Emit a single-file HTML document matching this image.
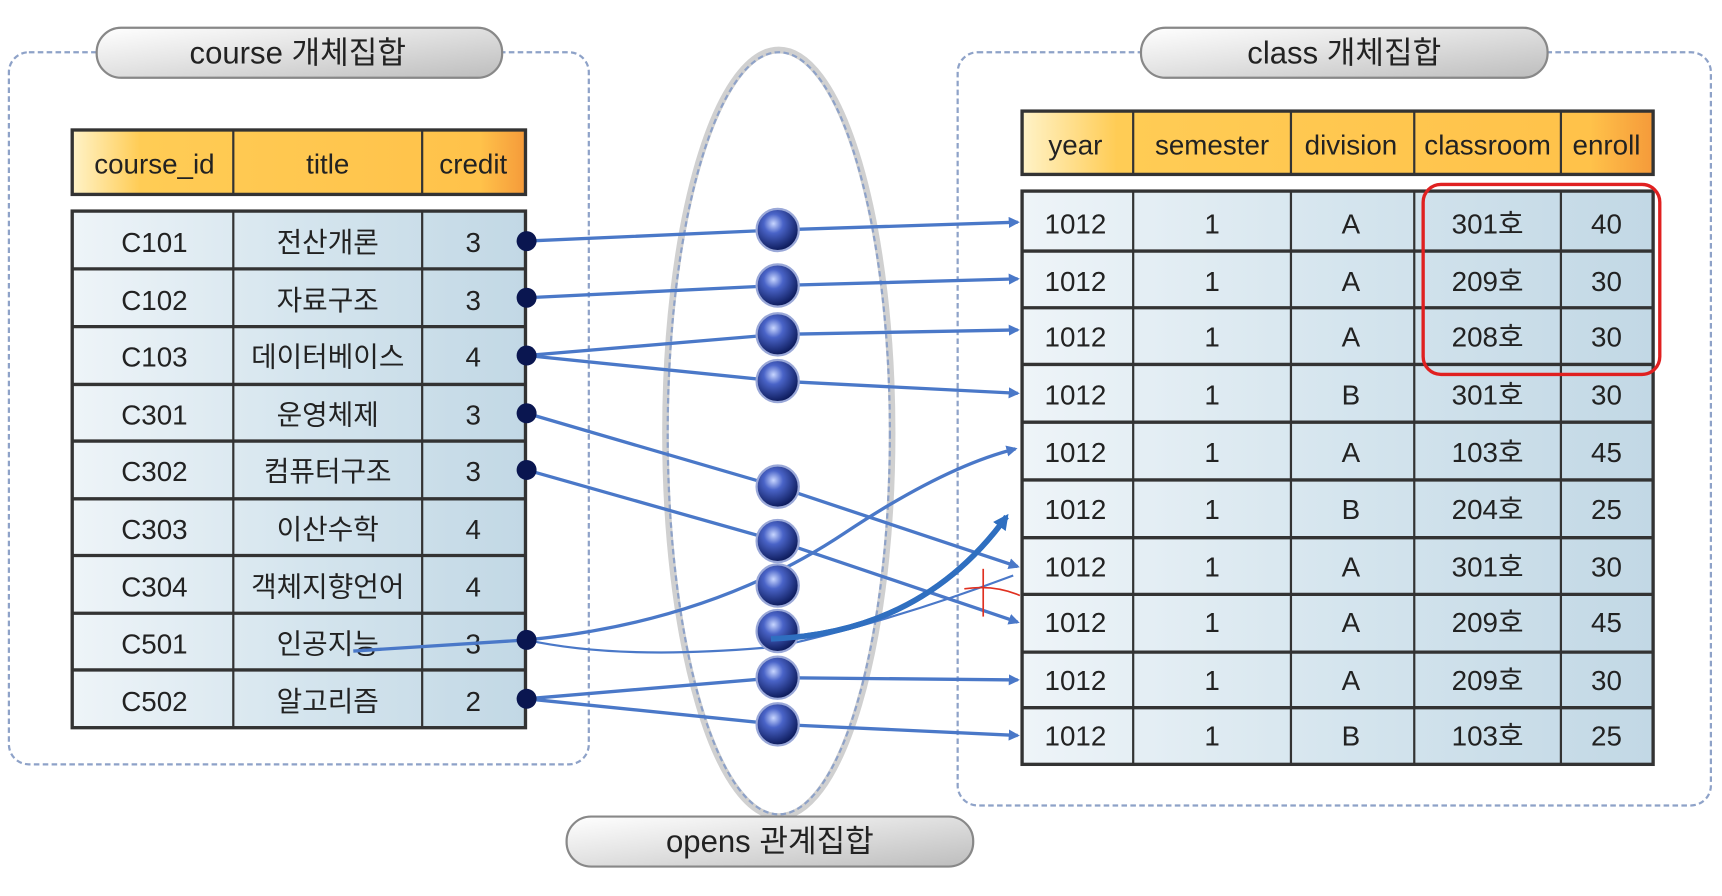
<!DOCTYPE html>
<html><head><meta charset="utf-8"><style>
html,body{margin:0;padding:0;background:#fff;}
svg{display:block;}
text{font-family:"Liberation Sans","Noto Sans CJK KR",sans-serif;}
</style></head><body>
<svg width="1722" height="896" viewBox="0 0 1550 806.5" preserveAspectRatio="none" xmlns="http://www.w3.org/2000/svg">
<defs>
<linearGradient id="cell" x1="0" y1="0" x2="1" y2="0"><stop offset="0" stop-color="#eef4f8"/><stop offset="0.5" stop-color="#d5e5ee"/><stop offset="1" stop-color="#c2d8e5"/></linearGradient>
<linearGradient id="hdr" x1="0" y1="0" x2="1" y2="0"><stop offset="0" stop-color="#fff3c8"/><stop offset="0.15" stop-color="#ffcc55"/><stop offset="0.9" stop-color="#ffc24a"/><stop offset="1" stop-color="#f59a3a"/></linearGradient>
<linearGradient id="pill" x1="0" y1="0" x2="1" y2="1"><stop offset="0" stop-color="#ffffff"/><stop offset="0.4" stop-color="#e6e6e6"/><stop offset="1" stop-color="#bdbdbd"/></linearGradient>
<radialGradient id="ball" cx="0.4" cy="0.35" r="0.65"><stop offset="0" stop-color="#c8d6ff"/><stop offset="0.35" stop-color="#4a64c8"/><stop offset="1" stop-color="#0c1a5a"/></radialGradient>
<marker id="ar" markerWidth="10" markerHeight="10" refX="8" refY="5" orient="auto" markerUnits="userSpaceOnUse"><path d="M0,0 L10,5 L0,10 Z" fill="#4a78c8"/></marker>
<marker id="ar2" markerWidth="14" markerHeight="14" refX="11" refY="7" orient="auto" markerUnits="userSpaceOnUse"><path d="M0,0 L14,7 L0,14 Z" fill="#2f6fc0"/></marker>
</defs>

<rect x="8" y="47" width="522" height="641" rx="18" fill="none" stroke="#8ea2c8" stroke-width="2" stroke-dasharray="5,3"/>
<rect x="862" y="47" width="678" height="678" rx="18" fill="none" stroke="#8ea2c8" stroke-width="2" stroke-dasharray="5,3"/>
<ellipse cx="701" cy="390" rx="102" ry="345" fill="#fff" stroke="#d0d0d0" stroke-width="6"/>
<ellipse cx="701" cy="390" rx="100" ry="343" fill="none" stroke="#8ea2c8" stroke-width="2" stroke-dasharray="5,3"/>

<rect x="87" y="25" width="365" height="45" rx="22" fill="url(#pill)" stroke="#888" stroke-width="2"/>
<text x="268" y="57" font-size="28" text-anchor="middle" fill="#222">course 개체집합</text>
<rect x="1027" y="25" width="366" height="45" rx="22" fill="url(#pill)" stroke="#888" stroke-width="2"/>
<text x="1210" y="57" font-size="28" text-anchor="middle" fill="#222">class 개체집합</text>
<rect x="510" y="735" width="366" height="45" rx="22" fill="url(#pill)" stroke="#888" stroke-width="2"/>
<text x="693" y="767" font-size="28" text-anchor="middle" fill="#222">opens 관계집합</text>

<g font-size="25" fill="#222" text-anchor="middle">
<rect x="65" y="117" width="408" height="58" fill="url(#hdr)" stroke="#333" stroke-width="3"/>
<line x1="210" y1="117" x2="210" y2="175" stroke="#333" stroke-width="2"/>
<line x1="380" y1="117" x2="380" y2="175" stroke="#333" stroke-width="2"/>
<text x="139" y="156">course_id</text><text x="295" y="156">title</text><text x="426" y="156">credit</text>

<rect x="65" y="190" width="408" height="465" fill="url(#cell)" stroke="#333" stroke-width="3"/>
<g stroke="#333" stroke-width="3">
<line x1="65" y1="242" x2="473" y2="242"/><line x1="65" y1="294" x2="473" y2="294"/><line x1="65" y1="346" x2="473" y2="346"/><line x1="65" y1="397" x2="473" y2="397"/><line x1="65" y1="449" x2="473" y2="449"/><line x1="65" y1="500" x2="473" y2="500"/><line x1="65" y1="552" x2="473" y2="552"/><line x1="65" y1="603" x2="473" y2="603"/>
<line x1="210" y1="190" x2="210" y2="655" stroke-width="2"/><line x1="380" y1="190" x2="380" y2="655" stroke-width="2"/>
</g>
<text x="139" y="227">C101</text><text x="295" y="227">전산개론</text><text x="426" y="227">3</text>
<text x="139" y="279">C102</text><text x="295" y="279">자료구조</text><text x="426" y="279">3</text>
<text x="139" y="330">C103</text><text x="295" y="330">데이터베이스</text><text x="426" y="330">4</text>
<text x="139" y="382">C301</text><text x="295" y="382">운영체제</text><text x="426" y="382">3</text>
<text x="139" y="433">C302</text><text x="295" y="433">컴퓨터구조</text><text x="426" y="433">3</text>
<text x="139" y="485">C303</text><text x="295" y="485">이산수학</text><text x="426" y="485">4</text>
<text x="139" y="537">C304</text><text x="295" y="537">객체지향언어</text><text x="426" y="537">4</text>
<text x="139" y="588">C501</text><text x="295" y="588">인공지능</text><text x="426" y="588">3</text>
<text x="139" y="640">C502</text><text x="295" y="640">알고리즘</text><text x="426" y="640">2</text>

<rect x="920" y="100" width="568" height="57" fill="url(#hdr)" stroke="#333" stroke-width="3"/>
<g stroke="#333" stroke-width="2"><line x1="1020" y1="100" x2="1020" y2="157"/><line x1="1162" y1="100" x2="1162" y2="157"/><line x1="1273" y1="100" x2="1273" y2="157"/><line x1="1405" y1="100" x2="1405" y2="157"/></g>
<text x="968" y="139">year</text><text x="1091" y="139">semester</text><text x="1216" y="139">division</text><text x="1339" y="139">classroom</text><text x="1446" y="139">enroll</text>

<rect x="920" y="172" width="568" height="516" fill="url(#cell)" stroke="#333" stroke-width="3"/>
<g stroke="#333" stroke-width="3">
<line x1="920" y1="226" x2="1488" y2="226"/><line x1="920" y1="277" x2="1488" y2="277"/><line x1="920" y1="328" x2="1488" y2="328"/><line x1="920" y1="380" x2="1488" y2="380"/><line x1="920" y1="432" x2="1488" y2="432"/><line x1="920" y1="484" x2="1488" y2="484"/><line x1="920" y1="535" x2="1488" y2="535"/><line x1="920" y1="587" x2="1488" y2="587"/><line x1="920" y1="637" x2="1488" y2="637"/>
<line x1="1020" y1="172" x2="1020" y2="688" stroke-width="2"/><line x1="1162" y1="172" x2="1162" y2="688" stroke-width="2"/><line x1="1273" y1="172" x2="1273" y2="688" stroke-width="2"/><line x1="1405" y1="172" x2="1405" y2="688" stroke-width="2"/>
</g>
<g>
<text x="968" y="210">1012</text><text x="1091" y="210">1</text><text x="1216" y="210">A</text><text x="1339" y="210">301호</text><text x="1446" y="210">40</text>
<text x="968" y="262">1012</text><text x="1091" y="262">1</text><text x="1216" y="262">A</text><text x="1339" y="262">209호</text><text x="1446" y="262">30</text>
<text x="968" y="312">1012</text><text x="1091" y="312">1</text><text x="1216" y="312">A</text><text x="1339" y="312">208호</text><text x="1446" y="312">30</text>
<text x="968" y="364">1012</text><text x="1091" y="364">1</text><text x="1216" y="364">B</text><text x="1339" y="364">301호</text><text x="1446" y="364">30</text>
<text x="968" y="416">1012</text><text x="1091" y="416">1</text><text x="1216" y="416">A</text><text x="1339" y="416">103호</text><text x="1446" y="416">45</text>
<text x="968" y="467">1012</text><text x="1091" y="467">1</text><text x="1216" y="467">B</text><text x="1339" y="467">204호</text><text x="1446" y="467">25</text>
<text x="968" y="519">1012</text><text x="1091" y="519">1</text><text x="1216" y="519">A</text><text x="1339" y="519">301호</text><text x="1446" y="519">30</text>
<text x="968" y="569">1012</text><text x="1091" y="569">1</text><text x="1216" y="569">A</text><text x="1339" y="569">209호</text><text x="1446" y="569">45</text>
<text x="968" y="621">1012</text><text x="1091" y="621">1</text><text x="1216" y="621">A</text><text x="1339" y="621">209호</text><text x="1446" y="621">30</text>
<text x="968" y="671">1012</text><text x="1091" y="671">1</text><text x="1216" y="671">B</text><text x="1339" y="671">103호</text><text x="1446" y="671">25</text>
</g>
</g>
<rect x="1281" y="166" width="213" height="171" rx="16" fill="none" stroke="#e02020" stroke-width="3"/>

<g fill="none" stroke="#4a78c8" stroke-width="3">
<path d="M474,217 L700,207 L916,200" marker-end="url(#ar)"/>
<path d="M474,268 L700,257 L916,251" marker-end="url(#ar)"/>
<path d="M474,320 L700,301 L916,297" marker-end="url(#ar)"/>
<path d="M474,320 L700,343 L916,354" marker-end="url(#ar)"/>
<path d="M474,372 L700,438 L916,510" marker-end="url(#ar)"/>
<path d="M474,423 L700,487 L916,560" marker-end="url(#ar)"/>
<path d="M474,576 Q640,560 760,480 Q850,420 914,404" marker-end="url(#ar)"/>
<path d="M474,576 Q560,595 700,582 Q800,560 912,518" stroke-width="2"/>
<path d="M318,586 L474,576"/>
<path d="M474,629 L700,610 L916,612" marker-end="url(#ar)"/>
<path d="M474,629 L700,652 L916,662" marker-end="url(#ar)"/>
</g>
<path d="M694,575 Q830,570 906,465" fill="none" stroke="#2f6fc0" stroke-width="5" marker-end="url(#ar2)"/>
<g stroke="#e03020" stroke-width="1.5" fill="none"><line x1="885" y1="512" x2="885" y2="555"/><path d="M868,530 Q895,526 918,536"/></g>

<g fill="#0a1650">
<circle cx="474" cy="217" r="9"/><circle cx="474" cy="268" r="9"/><circle cx="474" cy="320" r="9"/><circle cx="474" cy="372" r="9"/><circle cx="474" cy="423" r="9"/><circle cx="474" cy="576" r="9"/><circle cx="474" cy="629" r="9"/>
</g>
<g fill="url(#ball)" stroke="#9aa8d8" stroke-width="2">
<circle cx="700" cy="207" r="19"/><circle cx="700" cy="257" r="19"/><circle cx="700" cy="301" r="19"/><circle cx="700" cy="343" r="19"/><circle cx="700" cy="438" r="19"/><circle cx="700" cy="487" r="19"/><circle cx="700" cy="527" r="19"/><circle cx="700" cy="568" r="19"/><circle cx="700" cy="610" r="19"/><circle cx="700" cy="652" r="19"/>
</g>
<path d="M694,575 Q830,570 906,465" fill="none" stroke="#2f6fc0" stroke-width="5"/>
</svg>
</body></html>
